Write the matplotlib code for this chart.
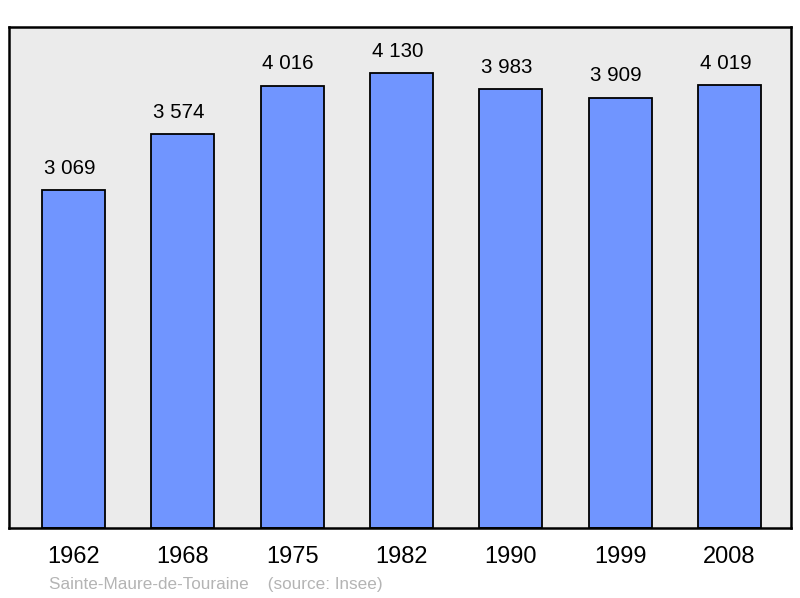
import matplotlib
matplotlib.use("Agg")
import matplotlib.pyplot as plt

years = ["1962", "1968", "1975", "1982", "1990", "1999", "2008"]
population = [3069, 3574, 4016, 4130, 3983, 3909, 4019]
labels = ["3 069", "3 574", "4 016", "4 130", "3 983", "3 909", "4 019"]

plt.rcParams['font.family'] = ['Liberation Sans', 'DejaVu Sans']

fig = plt.figure(figsize=(8, 5.98), dpi=100)
ax = fig.add_axes([9/800, 1 - 528/598, 782/800, 501/598])
ax.set_facecolor('#ebebeb')
x = list(range(len(years)))
ax.bar(x, population, width=0.576, color='#7095ff', edgecolor='black', linewidth=1.3, zorder=2)
for xi, v, lab in zip(x, population, labels):
    ax.annotate(lab, (xi, v), xytext=(-3, 9), textcoords='offset points',
                ha='center', va='bottom', fontsize=14.8, color='black')
ax.set_xlim(-0.59, 6.5625)
ax.set_ylim(0, 4550)
ax.set_yticks([])
ax.set_xticks(x)
ax.set_xticklabels(years, fontsize=17)
ax.tick_params(axis='x', length=0, pad=13)
for s in ax.spines.values():
    s.set_linewidth(1.8)
    s.set_color('black')
fig.text(49/800, 1 - 584/598, "Sainte-Maure-de-Touraine    (source: Insee)",
         fontsize=12.3, color='#b4b4b4', ha='left', va='center')
fig.savefig("out.png", dpi=100)
